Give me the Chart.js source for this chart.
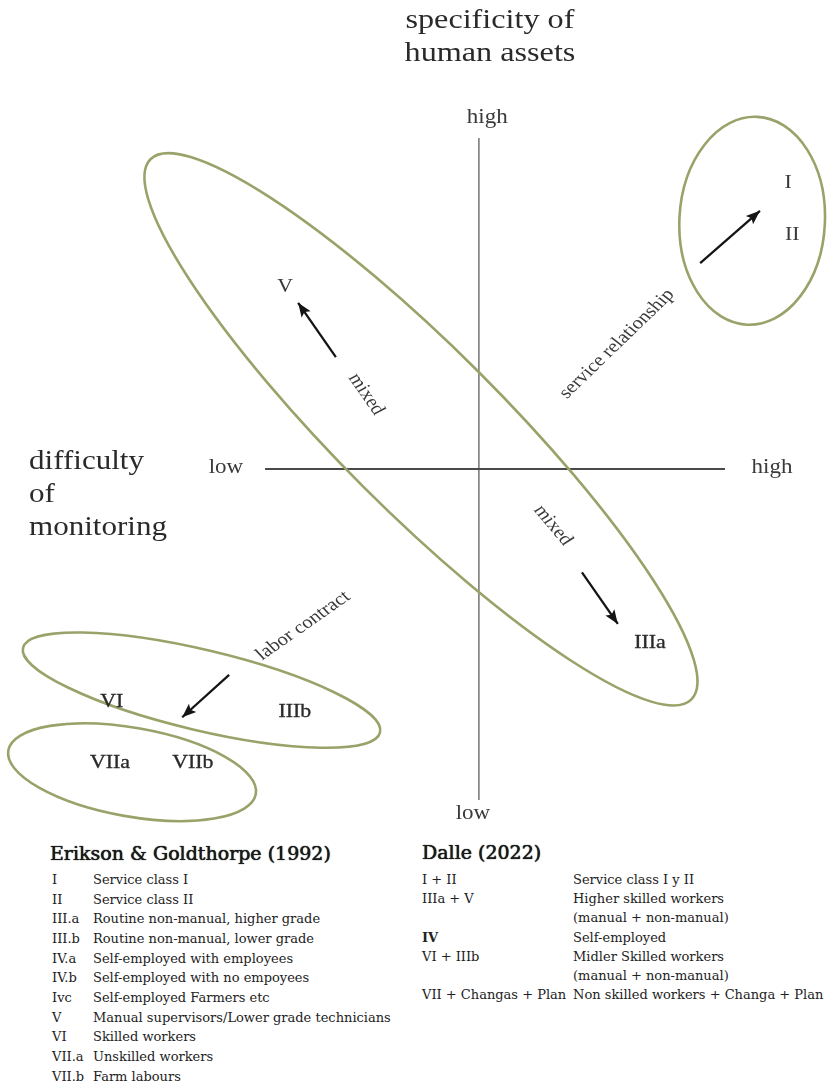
<!DOCTYPE html>
<html>
<head>
<meta charset="utf-8">
<script src="https://cdn.jsdelivr.net/npm/chart.js@4/dist/chart.umd.min.js"></script>
<style>
  html, body { margin: 0; padding: 0; background: #fff; }
  #page { position: relative; width: 827px; height: 1084px; overflow: hidden; }
  #chartBox { position: absolute; left: 0; top: 0; width: 827px; height: 830px; }
  .lst { position: absolute; font-family: "DejaVu Serif", Georgia, serif; color: #222; font-size: 13px; }
  .lst .row { position: absolute; left: 0; white-space: nowrap; height: 20px; line-height: 20px; }
  .lst .c2 { position: absolute; top: 0; white-space: nowrap; }
  .head { position: absolute; font-family: "DejaVu Serif", Georgia, serif; font-size: 19px; color: #1a1a1a;
          white-space: nowrap; text-shadow: 0 0 0.7px #000, 0 0 1.2px rgba(0,0,0,0.35); line-height: 24px; }
</style>
</head>
<body>
<div id="page">
  <div id="chartBox"><canvas id="c" width="827" height="830"></canvas></div>
  <div class="head" style="left:50px; top:841px;">Erikson &amp; Goldthorpe (1992)</div>
  <div class="lst" id="egList" style="left:52px; top:870px;"></div>
  <div class="head" style="left:422px; top:840px;">Dalle (2022)</div>
  <div class="lst" id="dalleList" style="left:422px; top:870px;"></div>
</div>
<script>
// ---------- data (diagram coordinates: x = difficulty of monitoring, y = specificity of human assets; 0 = low, 10 = high) ----------
const hAxis = [[0, 5], [10, 5]];
const vAxis = [[4.65, 10], [4.65, 0]];

// class groupings as ellipses: centre, end of major half-axis, end of minor half-axis
const ellipseCenters   = [[3.39, 5.60], [10.59, 8.75], [-1.38, 1.66], [-2.89, 0.42]];
const ellipseMajorEnds = [[9.27, 1.52], [10.70, 10.32], [2.50, 1.02], [-0.20, 0.09]];
const ellipseMinorEnds = [[2.14, 4.73], [12.17, 8.70], [-1.59, 1.07], [-3.06, -0.24]];

// arrows: tail -> head
const arrowTails = [[9.46, 8.11], [1.54, 6.69], [6.89, 3.44], [-0.78, 1.89]];
const arrowHeads = [[10.76, 8.90], [0.72, 7.51], [7.67, 2.66], [-1.80, 1.25]];

// class labels
const classLabels    = ['I', 'II', 'V', 'IIIa', 'VI', 'IIIb', 'VIIa', 'VIIb'];
const classPositions = [[11.37, 9.32], [11.46, 8.54], [0.44, 7.75], [8.37, 2.37], [-3.33, 1.48], [0.65, 1.33], [-3.37, 0.56], [-1.57, 0.56]];

// relationship labels
const relationLabels    = ['service relationship', 'mixed', 'mixed', 'labor contract'];
const relationPositions = [[7.65, 6.89], [2.20, 6.13], [6.26, 4.15], [0.83, 2.63]];
const relationAngles    = [-48, 58.7, 53.9, -38.8];

// axis end labels
const axisEndLabels    = ['high', 'low', 'low', 'high'];
const axisEndPositions = [[4.83, 10.30], [4.52, -0.21], [-0.85, 5.02], [11.02, 5.02]];

// axis titles
const yTitleLines = ['specificity of', 'human assets'];
const yTitlePositions = [[4.89, 11.78], [4.89, 11.28]];
const xTitleLines = ['difficulty', 'of', 'monitoring'];
const xTitlePositions = [[-5.13, 5.11], [-5.13, 4.61], [-5.13, 4.11]];

// tables below the diagram
const egCodes  = ['I', 'II', 'III.a', 'III.b', 'IV.a', 'IV.b', 'Ivc', 'V', 'VI', 'VII.a', 'VII.b'];
const egNames  = ['Service class I', 'Service class II', 'Routine non-manual, higher grade', 'Routine non-manual, lower grade',
                  'Self-employed with employees', 'Self-employed with no empoyees', 'Self-employed Farmers etc',
                  'Manual supervisors/Lower grade technicians', 'Skilled workers', 'Unskilled workers', 'Farm labours'];
const dalleCodes = ['I + II', 'IIIa + V', '', 'IV', 'VI + IIIb', '', 'VII + Changas + Plan'];
const dalleNames = ['Service class I y II', 'Higher skilled workers', '(manual + non-manual)', 'Self-employed',
                    'Midler Skilled workers', '(manual + non-manual)', 'Non skilled workers + Changa + Plan'];

// ---------- styles ----------
const ELLIPSE_COLOR = '#9aa26a';
const STRETCH = 1.15;
const SERIF = '"Liberation Serif", "Times New Roman", serif';

// ---------- tables ----------
function fillList(id, codes, names, step, col2) {
  const box = document.getElementById(id);
  codes.forEach((c, i) => {
    const r = document.createElement('div');
    r.className = 'row';
    r.style.top = (i * step) + 'px';
    const a = document.createElement('span');
    a.textContent = c;
    if (c === 'IV') a.style.fontWeight = 'bold';
    const b = document.createElement('span');
    b.className = 'c2';
    b.style.left = col2 + 'px';
    b.textContent = names[i];
    r.appendChild(a); r.appendChild(b);
    box.appendChild(r);
  });
}
fillList('egList', egCodes, egNames, 19.65, 41);
fillList('dalleList', dalleCodes, dalleNames, 19.2, 151);

// ---------- chart ----------
const toPts = arr => arr.map(p => ({ x: p[0], y: p[1] }));

const datasets = [
  { data: toPts(hAxis), showLine: true, borderColor: '#4a4a4a', borderWidth: 2, pointRadius: 0 },
  { data: toPts(vAxis), showLine: true, borderColor: '#5e5e5e', borderWidth: 1.3, pointRadius: 0 }
];
arrowTails.forEach((t, i) => {
  datasets.push({ data: toPts([t, arrowHeads[i]]), showLine: true, borderColor: '#151515', borderWidth: 2.3,
                  pointRadius: 0, isArrow: true });
});

const diagramPlugin = {
  id: 'diagram',
  afterDatasetsDraw(chart) {
    const ctx = chart.ctx;
    const sx = chart.scales.x, sy = chart.scales.y;
    const px = v => sx.getPixelForValue(v), py = v => sy.getPixelForValue(v);

    // ellipses
    ctx.save();
    ctx.strokeStyle = ELLIPSE_COLOR;
    ctx.lineWidth = 2.6;
    ellipseCenters.forEach((c, i) => {
      const cx = px(c[0]), cy = py(c[1]);
      const ax = px(ellipseMajorEnds[i][0]) - cx, ay = py(ellipseMajorEnds[i][1]) - cy;
      const bx = px(ellipseMinorEnds[i][0]) - cx, by = py(ellipseMinorEnds[i][1]) - cy;
      ctx.save();
      ctx.beginPath();
      ctx.transform(ax, ay, bx, by, cx, cy);
      ctx.arc(0, 0, 1, 0, Math.PI * 2);
      ctx.restore();
      ctx.stroke();
    });
    ctx.restore();

    // arrow heads
    ctx.save();
    ctx.fillStyle = '#151515';
    chart.data.datasets.forEach((ds, di) => {
      if (!ds.isArrow) return;
      const pts = chart.getDatasetMeta(di).data;
      const a = pts[0], b = pts[1];
      const ang = Math.atan2(b.y - a.y, b.x - a.x);
      const L = 14, W = 5.5;
      ctx.beginPath();
      ctx.moveTo(b.x, b.y);
      ctx.lineTo(b.x - L * Math.cos(ang) + W * Math.sin(ang), b.y - L * Math.sin(ang) - W * Math.cos(ang));
      ctx.lineTo(b.x - L * 0.8 * Math.cos(ang), b.y - L * 0.8 * Math.sin(ang));
      ctx.lineTo(b.x - L * Math.cos(ang) - W * Math.sin(ang), b.y - L * Math.sin(ang) + W * Math.cos(ang));
      ctx.closePath();
      ctx.fill();
    });
    ctx.restore();

    // text helper
    function label(text, x, y, size, angleDeg, align, color, heavy) {
      ctx.save();
      ctx.translate(px(x), py(y));
      ctx.scale(STRETCH, 1);
      ctx.rotate((angleDeg || 0) * Math.PI / 180);
      ctx.font = size + 'px ' + SERIF;
      ctx.fillStyle = color;
      ctx.textAlign = align || 'center';
      ctx.textBaseline = 'middle';
      ctx.fillText(text, 0, 0);
      if (heavy) {
        ctx.strokeStyle = color;
        ctx.lineWidth = heavy;
        ctx.strokeText(text, 0, 0);
      }
      ctx.restore();
    }

    yTitleLines.forEach((t, i) => label(t, yTitlePositions[i][0], yTitlePositions[i][1], 28, 0, 'center', '#2a2a2a', 0));
    xTitleLines.forEach((t, i) => label(t, xTitlePositions[i][0], xTitlePositions[i][1], 27, 0, 'left', '#2a2a2a', 0));
    axisEndLabels.forEach((t, i) => label(t, axisEndPositions[i][0], axisEndPositions[i][1], 20, 0, 'center', '#3a3a3a', 0));
    classLabels.forEach((t, i) => label(t, classPositions[i][0], classPositions[i][1], 19, 0, 'center',
                                        i < 3 ? '#3a3a3a' : '#2a2a2a', i >= 3 ? 0.3 : 0));
    relationLabels.forEach((t, i) => label(t, relationPositions[i][0], relationPositions[i][1], 18, relationAngles[i], 'center', '#3a3a3a', 0));
  }
};

function build() {
  new Chart(document.getElementById('c'), {
    type: 'scatter',
    data: { datasets },
    options: {
      responsive: false,
      animation: false,
      events: [],
      layout: { padding: 0 },
      plugins: { legend: { display: false }, tooltip: { enabled: false } },
      scales: {
        x: { type: 'linear', min: -5.761, max: 12.217, display: false },
        y: { type: 'linear', min: -0.453, max: 12.085, display: false }
      }
    },
    plugins: [diagramPlugin]
  });
}

Promise.all([
  document.fonts.load('20px "Liberation Serif"'),
  document.fonts.load('13px "DejaVu Serif"')
]).then(build, build);
</script>
</body>
</html>
